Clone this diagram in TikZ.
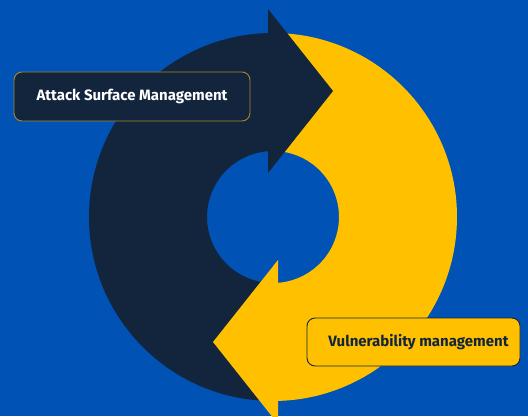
\documentclass[tikz,border=0pt]{standalone}
\usepackage{fontspec}
\setsansfont{Fira Sans}
\definecolor{bgblue}{RGB}{0,82,180}
\definecolor{navy}{RGB}{18,37,61}
\definecolor{gold}{RGB}{255,192,0}
\definecolor{goldline}{RGB}{170,135,40}
\begin{document}
\begin{tikzpicture}[x=1pt,y=1pt,
  labelbox/.style={rounded corners=8pt, line width=0.9pt, inner sep=0pt,
    font=\sffamily\bfseries\fontsize{15}{18}\selectfont},
]
\useasboundingbox (0,0) rectangle (528,416);
\fill[bgblue] (0,0) rectangle (528,416);
\coordinate (C) at (273,199);
% dark shaft (left half), ends hidden under the arrowheads
\fill[navy] ([shift={(87.82:184)}]C) arc[start angle=87.82, end angle=267.82, radius=184]
  -- ([shift={(263.91:66)}]C) arc[start angle=263.91, end angle=83.91, radius=66] -- cycle;
% yellow shaft (right half)
\fill[gold] ([shift={(87.82:184)}]C) arc[start angle=87.82, end angle=-92.18, radius=184]
  -- ([shift={(-96.09:66)}]C) arc[start angle=-96.09, end angle=83.91, radius=66] -- cycle;
% arrowheads
\coordinate (dA) at (268,407); \coordinate (dB) at (268,243); \coordinate (dT) at (333,325);
\fill[navy] (dA) -- (dT) -- (dB) -- cycle;
\coordinate (yA) at (278,156); \coordinate (yB) at (278,-8); \coordinate (yT) at (213,74);
\fill[gold] (yA) -- (yT) -- (yB) -- cycle;
% labels
\node[labelbox, draw=goldline, fill=navy, text=white, minimum width=236pt, minimum height=49pt]
  (asm) at (132,319.5) {Attack Surface Management};
\node[labelbox, draw=navy, fill=gold, text=navy, minimum width=213pt, minimum height=48pt]
  (vm) at (413.5,74) {\hspace*{10pt}Vulnerability management};
\end{tikzpicture}
\end{document}
